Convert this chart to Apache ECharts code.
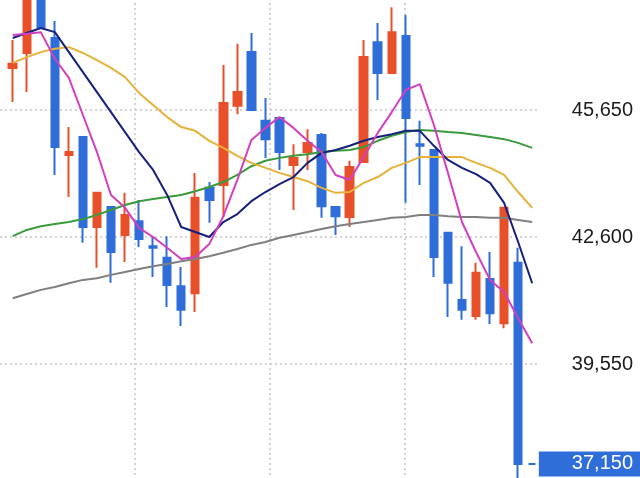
<!DOCTYPE html>
<html>
<head>
<meta charset="utf-8">
<script src="https://cdn.jsdelivr.net/npm/echarts@6/dist/echarts.min.js"></script>
<style>
html,body{margin:0;padding:0;background:#ffffff;}
#chart{width:640px;height:478px;}
</style>
</head>
<body>
<div id="chart"></div>
<script>
// ---- data ----
const categories = ['d01','d02','d03','d04','d05','d06','d07','d08','d09','d10',
  'd11','d12','d13','d14','d15','d16','d17','d18','d19','d20',
  'd21','d22','d23','d24','d25','d26','d27','d28','d29','d30',
  'd31','d32','d33','d34','d35','d36','d37','d38'];

// [open, close, low, high]
const ohlc = [
  [46660, 46760, 45840, 47330],
  [47020, 48410, 46080, 48650],
  [48450, 47640, 47600, 48700],
  [47380, 44760, 44090, 47790],
  [44570, 44640, 43560, 45240],
  [45000, 42840, 42460, 45000],
  [42840, 43660, 41860, 43660],
  [43320, 42240, 41500, 43320],
  [42650, 43130, 42000, 43660],
  [42980, 42550, 42360, 43490],
  [42380, 42340, 41640, 42600],
  [42100, 41450, 40920, 42620],
  [41420, 40850, 40460, 41880],
  [41250, 43540, 40800, 44140],
  [43780, 43490, 42940, 43920],
  [43850, 45820, 43080, 46730],
  [45750, 46080, 45550, 47240],
  [47040, 45650, 45650, 47500],
  [45390, 44950, 44500, 45940],
  [45460, 44640, 44210, 45480],
  [44330, 44500, 43250, 44830],
  [44640, 44860, 44210, 45190],
  [45050, 43340, 43060, 45100],
  [43320, 43100, 42650, 43320],
  [43080, 44280, 42840, 44430],
  [44400, 46920, 44400, 47330],
  [47280, 46540, 45890, 47740],
  [46540, 47520, 46540, 48120],
  [47430, 45460, 43420, 47930],
  [44830, 44790, 43850, 45390],
  [44690, 42120, 41640, 44690],
  [42700, 41500, 40680, 42700],
  [41090, 40850, 40610, 42380],
  [40700, 41740, 40610, 41980],
  [41590, 40770, 40510, 42240],
  [40530, 43300, 40410, 43320],
  [41980, 37150, 36600, 42340],
  [37150, 37150, 37150, 37150]
];

const maMagenta = [47450,47480,47520,46880,46420,45530,44640,43610,43300,42820,
  42600,42340,42070,42120,42430,43100,43970,44930,45220,45480,
  45220,44910,44640,44090,43970,44520,45100,45600,46130,46270,
  45290,44140,42960,42240,41570,41280,40650,40050];

const maNavy = [47380,47500,47620,47520,47040,46560,46080,45600,45120,44640,
  44210,43610,42840,42720,42600,42960,43150,43460,43680,43870,
  44040,44380,44620,44690,44790,44910,45000,45070,45150,45150,
  44790,44450,44260,44110,43900,43420,42480,41490];

const maOrange = [46780,46920,47040,47120,47160,47020,46850,46660,46440,46060,
  45770,45480,45240,45150,44910,44740,44550,44380,44260,44140,
  44040,43940,43780,43660,43680,43900,44040,44260,44380,44520,
  44520,44520,44520,44380,44260,44090,43680,43300];

const maGreen = [42620,42770,42860,42910,42960,43030,43130,43250,43370,43460,
  43510,43560,43610,43700,43800,43920,44090,44300,44430,44500,
  44550,44590,44640,44670,44690,44760,44910,45030,45120,45170,
  45150,45120,45100,45050,45000,44950,44860,44740];

const maGray = [41130,41230,41330,41400,41490,41570,41610,41690,41760,41830,
  41900,41950,42020,42070,42140,42220,42310,42410,42480,42580,
  42650,42720,42790,42860,42910,42960,43010,43060,43080,43130,
  43130,43100,43080,43080,43060,43060,43010,42960];

const yMin = 36500;
const yMax = 48700;
const yStep = 3050;
const lastPrice = [37150];

// ---- styles ----
const RED = '#e8502a';
const BLUE = '#2f6dd9';
const FONT = '"Liberation Sans", Arial, Helvetica, sans-serif';
const gridLine = { color: '#c6c6c6', type: [2, 3], width: 1.5 };

function fmt(v) { return Number(v).toLocaleString('en-US'); }

const candleData = ohlc.map(function (d, i) {
  if (d[0] === d[1]) {
    return { value: d, itemStyle: { color: BLUE, color0: BLUE, borderColor: BLUE, borderColor0: BLUE, borderColorDoji: BLUE } };
  }
  return d;
});

function maSeries(name, data, color) {
  return {
    name: name, type: 'line', xAxisIndex: 1, yAxisIndex: 2,
    data: data, symbol: 'none', smooth: false, silent: true,
    lineStyle: { color: color, width: 2 }, z: 3
  };
}

const chart = echarts.init(document.getElementById('chart'), null, { renderer: 'canvas' });
chart.setOption({
  animation: false,
  backgroundColor: '#ffffff',
  grid: [
    { left: 0, right: 101, top: -17, bottom: -13, containLabel: false, outerBoundsMode: 'none' },
    { left: 5.7, right: 100.8, top: -17, bottom: -13, containLabel: false, outerBoundsMode: 'none' }
  ],
  xAxis: [
    {
      gridIndex: 0, type: 'value', min: 0, max: 539, interval: 135,
      axisLine: { show: false }, axisTick: { show: false }, axisLabel: { show: false },
      splitLine: { show: true, showMinLine: false, showMaxLine: false, lineStyle: gridLine }
    },
    {
      gridIndex: 1, type: 'category', data: categories, boundaryGap: true,
      axisLine: { show: false }, axisTick: { show: false }, axisLabel: { show: false },
      splitLine: { show: false }
    }
  ],
  yAxis: [
    {
      gridIndex: 0, type: 'value', position: 'right', min: yMin, max: yMax, interval: yStep,
      axisLine: { show: false }, axisTick: { show: false },
      splitLine: { show: true, lineStyle: gridLine },
      axisLabel: {
        show: true, align: 'right', margin: 94, formatter: fmt,
        color: '#1b1b1b', fontSize: 20, fontFamily: FONT
      }
    },
    {
      gridIndex: 0, type: 'value', position: 'right', min: yMin, max: yMax,
      axisLine: { show: false }, axisTick: { show: false }, splitLine: { show: false },
      axisLabel: {
        show: true, customValues: lastPrice, align: 'right', margin: 101, formatter: fmt,
        color: '#ffffff', fontSize: 20, fontFamily: FONT, lineHeight: 20,
        backgroundColor: BLUE, padding: [3, 7, 2, 33]
      }
    },
    {
      gridIndex: 1, type: 'value', min: yMin, max: yMax, show: false,
      splitLine: { show: false }
    }
  ],
  series: [
    {
      name: 'price', type: 'candlestick', xAxisIndex: 1, yAxisIndex: 2,
      data: candleData, barWidth: 8, silent: true, z: 2,
      itemStyle: {
        color: RED, color0: BLUE, borderColor: RED, borderColor0: BLUE,
        borderColorDoji: BLUE, borderWidth: 2
      }
    },
    maSeries('ma75', maGray, '#7f7f7f'),
    maSeries('ma50', maGreen, '#3a9a3c'),
    maSeries('ma25', maOrange, '#e6b23a'),
    maSeries('ma10', maNavy, '#16207c'),
    maSeries('ma5', maMagenta, '#d23fbf')
  ]
});
</script>
</body>
</html>
